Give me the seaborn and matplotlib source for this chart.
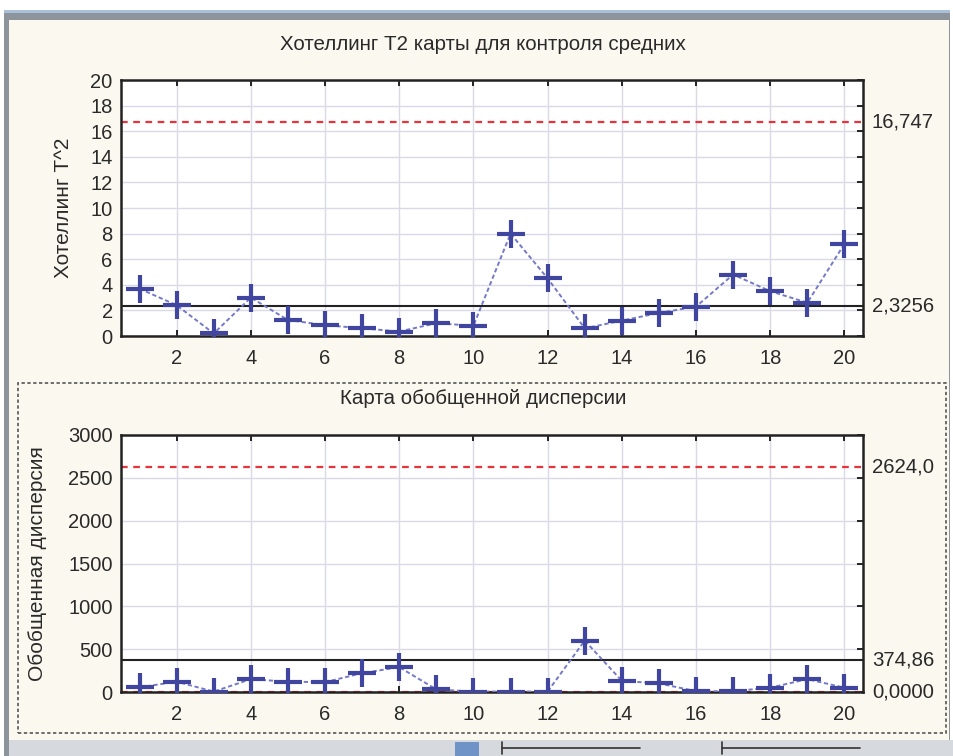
import numpy as np
import pandas as pd
import matplotlib
matplotlib.use("Agg")
import matplotlib.pyplot as plt
from matplotlib.patches import Rectangle
from matplotlib.lines import Line2D
import matplotlib.transforms as mtransforms
import seaborn as sns

# ---- data ----
samples = list(range(1, 21))
t2_values = [3.7, 2.4, 0.2, 3.0, 1.25, 0.85, 0.6, 0.35, 1.0, 0.8,
             8.0, 4.5, 0.6, 1.2, 1.8, 2.3, 4.8, 3.5, 2.6, 7.2]
gv_values = [55, 120, 5, 150, 120, 115, 220, 290, 30, 5,
             5, 5, 600, 130, 100, 10, 10, 50, 150, 50]
t2_limits = [16.747, 2.3256]           # UCL, centre
t2_limit_labels = ["16,747", "2,3256"]
gv_limits = [2624.0, 374.86, 0.0]      # UCL, centre, LCL
gv_limit_labels = ["2624,0", "374,86", "0,0000"]
x_ticks = list(range(2, 21, 2))
t2_yticks = list(range(0, 21, 2))
gv_yticks = list(range(0, 3001, 500))
title_top = "Хотеллинг Т2 карты для контроля средних"
title_bottom = "Карта обобщенной дисперсии"
ylabel_top = "Хотеллинг Т^2"
ylabel_bottom = "Обобщенная дисперсия"

sns.set_theme(style="white")
plt.rcParams['font.family'] = ['Liberation Sans', 'DejaVu Sans']

W, H = 954, 756
fig = plt.figure(figsize=(W / 100, H / 100), dpi=100)
CREAM = "#FBF8EF"
TXT = "#2A2A2A"
fig.patch.set_facecolor("white")

def fx(px):
    return px / W

def fy(py):
    return 1 - py / H

# window frame decorations
fig.patches.append(Rectangle((fx(4), fy(756)), fx(950 - 4), fy(10) - fy(756),
                             transform=fig.transFigure, facecolor="#8E949C",
                             edgecolor="none", zorder=-6))
fig.patches.append(Rectangle((fx(4), fy(13)), fx(950 - 4), fy(10) - fy(13),
                             transform=fig.transFigure, facecolor="#A9C0DA",
                             edgecolor="none", zorder=-5))
fig.patches.append(Rectangle((fx(9), fy(740)), fx(949 - 9), fy(20) - fy(740),
                             transform=fig.transFigure, facecolor=CREAM,
                             edgecolor="none", zorder=-4))
fig.patches.append(Rectangle((fx(9), fy(756)), fx(954 - 9), fy(740) - fy(756),
                             transform=fig.transFigure, facecolor="#D6D9DE",
                             edgecolor="none", zorder=-4))
# dotted box around lower chart
fig.patches.append(Rectangle((fx(18), fy(733)), fx(946 - 18), fy(383) - fy(733),
                             transform=fig.transFigure, facecolor="none",
                             edgecolor="#555555", linestyle=(0, (2, 1.5)),
                             linewidth=1.2, zorder=-3))
# toolbar hints
for x0, x1 in [(502, 640), (722, 860)]:
    fig.lines.append(Line2D([fx(x0), fx(x1)], [fy(748), fy(748)],
                            transform=fig.transFigure, color="#333333", lw=1.2))
    fig.lines.append(Line2D([fx(x0), fx(x0)], [fy(742), fy(754)],
                            transform=fig.transFigure, color="#333333", lw=1.2))
fig.patches.append(Rectangle((fx(455), fy(756)), fx(24), fy(742) - fy(756),
                             transform=fig.transFigure, facecolor="#6F93C6",
                             edgecolor="none", zorder=-2))

MARK = "#40469F"
LINE = "#7479C8"
RED = "#E8333A"
GRID = "#D9DAE6"

def make_axes(rect, yvals, limits, labels, yticks, ylim, ylabel, red_idx, black_idx, ylabel_x):
    ax = fig.add_axes(rect)
    ax.set_facecolor("white")
    df = pd.DataFrame({"sample": samples, "value": yvals})
    sns.lineplot(data=df, x="sample", y="value", ax=ax, color=LINE,
                 linestyle=(0, (2.2, 1.4)), linewidth=1.4, zorder=3)
    sns.scatterplot(data=df, x="sample", y="value", ax=ax, marker="+",
                    s=380, color=MARK, linewidth=3, zorder=4)
    for i in red_idx:
        ax.axhline(limits[i], color=RED, linestyle=(0, (3, 2.5)), linewidth=1.6, zorder=2)
    for i in black_idx:
        ax.axhline(limits[i], color="#222222", linestyle="-", linewidth=1.5, zorder=2)
    ax.set_xlim(0.5, 20.5)
    ax.set_ylim(*ylim)
    ax.set_xticks(x_ticks)
    ax.set_yticks(yticks)
    ax.set_xticklabels([str(t) for t in x_ticks])
    ax.set_yticklabels([str(t) for t in yticks])
    ax.grid(True, color=GRID, linewidth=1.0, zorder=0)
    ax.set_axisbelow(True)
    for s in ax.spines.values():
        s.set_color("#222222")
        s.set_linewidth(1.8)
        s.set_visible(True)
    ax.tick_params(direction="in", top=True, right=True, bottom=True, left=False,
                   length=4, width=1.4, color="#222222", labelsize=14.5,
                   labelcolor=TXT, pad=6)
    ax.tick_params(axis="x", pad=9)
    ax.set_xlabel("")
    ax.set_ylabel("")
    trans = mtransforms.blended_transform_factory(ax.transAxes, ax.transData)
    for v, lab in zip(limits, labels):
        ax.text(1.012, v, lab, transform=trans, ha="left", va="center",
                fontsize=14.7, color=TXT)
    fig.text(ylabel_x, rect[1] + rect[3] / 2, ylabel, rotation=90,
             ha="center", va="center", fontsize=15, color=TXT)
    return ax

ax1 = make_axes([fx(121), fy(336), fx(863 - 121), fy(80) - fy(336)],
                t2_values, t2_limits, t2_limit_labels, t2_yticks, (0, 20),
                ylabel_top, red_idx=[0], black_idx=[1], ylabel_x=fx(64))
ax2 = make_axes([fx(121), fy(692), fx(863 - 121), fy(435) - fy(692)],
                gv_values, gv_limits, gv_limit_labels, gv_yticks, (0, 3000),
                ylabel_bottom, red_idx=[0, 2], black_idx=[1], ylabel_x=fx(38))

fig.text(fx(483), fy(45), title_top, ha="center", va="center", fontsize=14.8, color=TXT)
fig.text(fx(483), fy(399), title_bottom, ha="center", va="center", fontsize=14.8, color=TXT)

fig.savefig("out.png", dpi=100, facecolor=fig.get_facecolor())
